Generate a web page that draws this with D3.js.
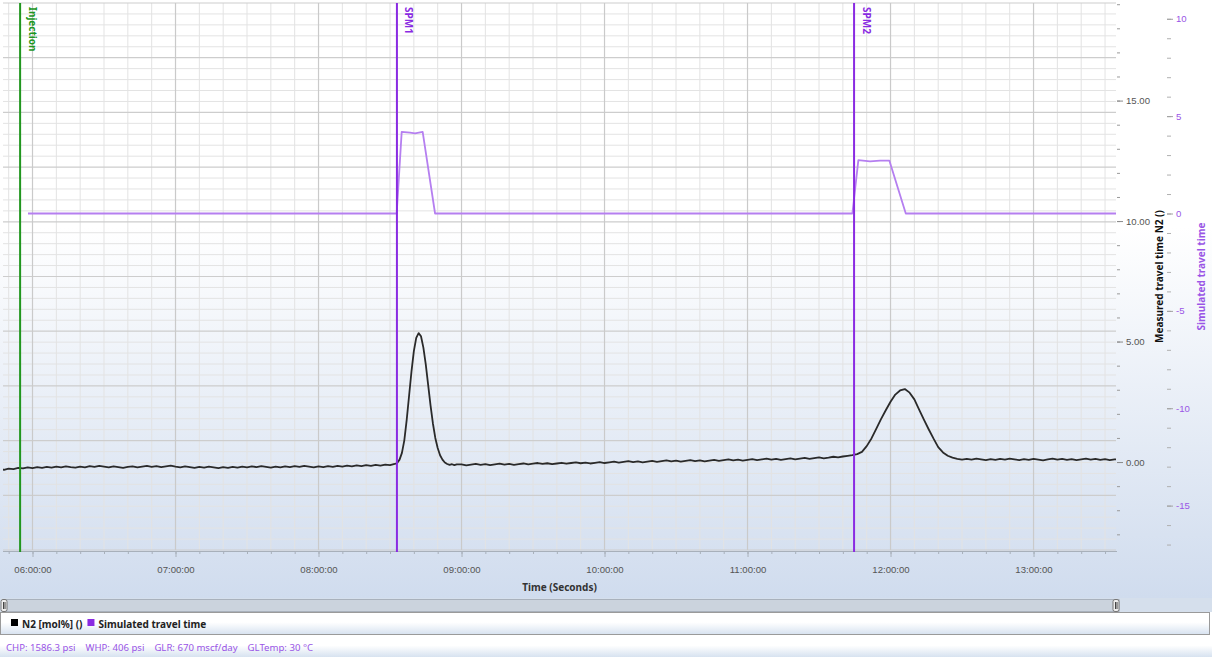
<!DOCTYPE html>
<html><head><meta charset="utf-8">
<script src="https://cdn.jsdelivr.net/npm/d3@7"></script>
<style>
html,body{margin:0;padding:0;background:#fff;overflow:hidden;}
svg{display:block;font-family:"Noto Sans","Open Sans",sans-serif;}
</style></head><body>
<svg id="chart" width="1212" height="657"></svg>
<script>
// ---------------- DATA ----------------
// time axis (minutes since midnight) and its labels
const xTickMinutes = [360, 420, 480, 540, 600, 660, 720, 780];
const xTickLabels = ["06:00:00","07:00:00","08:00:00","09:00:00","10:00:00","11:00:00","12:00:00","13:00:00"];
const leftTickValues = [0, 5, 10, 15];
const leftTickLabels = ["0.00","5.00","10.00","15.00"];
const rightTickValues = [-15, -10, -5, 0, 5, 10];
const rightTickLabels = ["-15","-10","-5","0","5","10"];

// Markers
const markerNames = ["Injection", "SPM1", "SPM2"];
const markerMinutes = [354.8, 512.9, 704.7];

// Simulated travel time [minute, value]
const simTravelTime = [
  [358.1,0],[512.8,0],[514.9,4.19],[518.4,4.15],[520.5,4.11],[523.7,4.19],[528.9,0],
  [704.0,0],[706.5,2.74],[711.4,2.68],[715.6,2.72],[719.5,2.72],[726.4,0],[815,0]
];

// Measured N2 [minute, mol%]
const n2BeforeSpm1 = [
  [347,-0.30],[348,-0.32],[350,-0.27],[352,-0.29],[354,-0.24],[356,-0.26],[358,-0.22],[360,-0.25],[362,-0.21],[364,-0.24],
  [366,-0.20],[368,-0.23],[370,-0.19],[372,-0.22],[374,-0.18],[376,-0.21],[378,-0.23],[380,-0.19],[382,-0.22],[384,-0.17],
  [386,-0.20],[388,-0.16],[390,-0.19],[392,-0.22],[394,-0.18],[396,-0.21],[398,-0.24],[400,-0.20],[402,-0.18],[404,-0.22],
  [406,-0.19],[408,-0.16],[410,-0.20],[412,-0.17],[414,-0.21],[416,-0.18],[418,-0.15],[420,-0.19],[422,-0.22],[424,-0.18],
  [426,-0.21],[428,-0.24],[430,-0.20],[432,-0.23],[434,-0.19],[436,-0.22],[438,-0.25],[440,-0.21],[442,-0.24],[444,-0.20],
  [446,-0.23],[448,-0.19],[450,-0.22],[452,-0.18],[454,-0.21],[456,-0.17],[458,-0.20],[460,-0.23],[462,-0.19],[464,-0.22],
  [466,-0.18],[468,-0.21],[470,-0.17],[472,-0.20],[474,-0.16],[476,-0.19],[478,-0.22],[480,-0.18],[482,-0.21],[484,-0.17],
  [486,-0.20],[488,-0.16],[490,-0.19],[492,-0.15],[494,-0.18],[496,-0.14],[498,-0.17],[500,-0.13],[502,-0.16],[504,-0.12],
  [506,-0.15],[508,-0.11],[510,-0.13],[512,-0.08]
];
const n2PeakSpm1 = [
  [513,-0.04],[514,0.10],[515,0.38],[516,0.90],[517,1.75],[518,2.75],[519,3.75],[520,4.60],[521,5.15],[522,5.35],
  [523,5.22],[524,4.75],[525,4.05],[526,3.20],[527,2.35],[528,1.60],[529,1.00],[530,0.58],[531,0.28],[532,0.10],
  [533,-0.02],[534,-0.08],[535,-0.12],[536,-0.09],[537,-0.13],[538,-0.10]
];
const n2BetweenPeaks = [
  [540,-0.10],[542,-0.14],[544,-0.11],[546,-0.08],[548,-0.12],[550,-0.09],[552,-0.13],[554,-0.10],[556,-0.07],[558,-0.11],
  [560,-0.08],[562,-0.12],[564,-0.09],[566,-0.06],[568,-0.10],[570,-0.07],[572,-0.04],[574,-0.08],[576,-0.05],[578,-0.09],
  [580,-0.06],[582,-0.03],[584,-0.07],[586,-0.04],[588,-0.01],[590,-0.05],[592,-0.02],[594,-0.06],[596,-0.03],[598,0.00],
  [600,-0.04],[602,-0.01],[604,0.02],[606,-0.02],[608,0.01],[610,0.04],[612,0.00],[614,0.03],[616,-0.01],[618,0.02],
  [620,0.05],[622,0.01],[624,0.04],[626,0.07],[628,0.03],[630,0.06],[632,0.02],[634,0.05],[636,0.08],[638,0.04],
  [640,0.07],[642,0.03],[644,0.06],[646,0.09],[648,0.05],[650,0.08],[652,0.11],[654,0.07],[656,0.10],[658,0.06],
  [660,0.09],[662,0.12],[664,0.08],[666,0.11],[668,0.14],[670,0.10],[672,0.13],[674,0.09],[676,0.12],[678,0.15],
  [680,0.11],[682,0.14],[684,0.17],[686,0.13],[688,0.16],[690,0.19],[692,0.15],[694,0.18],[696,0.22],[698,0.19],
  [700,0.23],[702,0.26],[704,0.29]
];
const n2PeakSpm2 = [
  [706,0.33],[708,0.42],[710,0.66],[712,0.98],[714,1.38],[716,1.78],[718,2.15],[720,2.50],[722,2.80],[724,2.97],
  [726,3.03],[728,2.88],[730,2.60],[732,2.18],[734,1.76],[736,1.36],[738,0.98],[740,0.62],[742,0.40],[744,0.26],
  [746,0.18],[748,0.13],[750,0.10]
];
const n2AfterSpm2 = [
  [752,0.13],[754,0.10],[756,0.14],[758,0.11],[760,0.08],[762,0.12],[764,0.09],[766,0.13],[768,0.10],[770,0.14],
  [772,0.11],[774,0.08],[776,0.12],[778,0.09],[780,0.13],[782,0.10],[784,0.07],[786,0.11],[788,0.14],[790,0.10],
  [792,0.13],[794,0.09],[796,0.12],[798,0.08],[800,0.11],[802,0.14],[804,0.10],[806,0.13],[808,0.09],[810,0.12],
  [812,0.08],[814,0.11],[816,0.12]
];

const legendLabels = ["N2 [mol%] ()", "Simulated travel time"];
const footerItems = ["CHP: 1586.3 psi", "WHP: 406 psi", "GLR: 670 mscf/day", "GLTemp: 30 °C"];
const xTitle = "Time (Seconds)";
const leftTitle = "Measured travel time N2 ()";
const rightTitle = "Simulated travel time";

// ---------------- LAYOUT / STYLE ----------------
const W = 1212, H = 657;
const plot = {left: 3, right: 1116, top: 3, bottom: 550};
const purple = "#8a2be2", simColor = "#b57ff0", green = "#21961f", labelPurple = "#9a55e6";
const markerColors = [green, purple, purple];

const svg = d3.select("#chart");
const defs = svg.append("defs");

const bg = defs.append("linearGradient").attr("id","bg").attr("x1",0).attr("y1",0).attr("x2",0).attr("y2",1);
bg.append("stop").attr("offset","0").attr("stop-color","#ffffff");
bg.append("stop").attr("offset","0.38").attr("stop-color","#ffffff");
bg.append("stop").attr("offset","1").attr("stop-color","#d0dcee");

const pan = defs.append("linearGradient").attr("id","pan").attr("x1",0).attr("y1",0).attr("x2",0).attr("y2",1);
pan.append("stop").attr("offset","0").attr("stop-color","#ffffff");
pan.append("stop").attr("offset","0.45").attr("stop-color","#ffffff");
pan.append("stop").attr("offset","1").attr("stop-color","#d7e2f0");

defs.append("clipPath").attr("id","clip").append("rect")
  .attr("x",plot.left).attr("y",plot.top).attr("width",plot.right-plot.left).attr("height",plot.bottom-plot.top);

svg.append("rect").attr("width",W).attr("height",598).attr("fill","url(#bg)");

// scales
const x = d3.scaleLinear().domain([347.62, 814.6]).range([plot.left, plot.right]);
const yL = d3.scaleLinear().domain([-3.65, 19.05]).range([plot.bottom, plot.top]);
const yR = d3.scaleLinear().domain([-17.28, 10.81]).range([plot.bottom, plot.top]);

// grid
const grid = svg.append("g");
const minorX = d3.range(350, 815, 10).filter(m => m % 60 !== 0);
grid.selectAll(".vmin").data(minorX).join("line")
  .attr("x1",d=>x(d)).attr("x2",d=>x(d)).attr("y1",plot.top).attr("y2",plot.bottom)
  .attr("stroke","#e3e3e3").attr("stroke-width",1);
const hN = 50;
const hLines = d3.range(0, hN+1).map(i => ({y: plot.top + i*(plot.bottom-plot.top)/hN, major: i % 5 === 0}));
grid.selectAll(".hmin").data(hLines.filter(d=>!d.major)).join("line")
  .attr("x1",plot.left).attr("x2",plot.right).attr("y1",d=>d.y).attr("y2",d=>d.y)
  .attr("stroke","#e3e3e3").attr("stroke-width",1);
grid.selectAll(".hmaj").data(hLines.filter(d=>d.major)).join("line")
  .attr("x1",plot.left).attr("x2",plot.right).attr("y1",d=>d.y).attr("y2",d=>d.y)
  .attr("stroke","#cdcdcd").attr("stroke-width",1.2);
grid.selectAll(".vmaj").data(xTickMinutes).join("line")
  .attr("x1",d=>x(d)).attr("x2",d=>x(d)).attr("y1",plot.top).attr("y2",plot.bottom)
  .attr("stroke","#cacaca").attr("stroke-width",1.2);

// x axis
const xMinorAxis = d3.axisBottom(x).tickValues(d3.range(350, 815, 10)).tickSize(3).tickFormat("");
const gxm = svg.append("g").attr("transform",`translate(0,${plot.bottom+1})`).call(xMinorAxis);
gxm.select(".domain").attr("stroke","#a8b0ba").attr("d",`M${plot.left},0.5H${plot.right+1}`);
gxm.selectAll(".tick line").attr("stroke","#a8b0ba");
const xAxis = d3.axisBottom(x).tickValues(xTickMinutes).tickFormat((d,i)=>xTickLabels[i]).tickSize(6).tickPadding(9);
const gx = svg.append("g").attr("transform",`translate(0,${plot.bottom+1})`).call(xAxis);
gx.select(".domain").remove();
gx.selectAll(".tick line").attr("stroke","#a8b0ba");
gx.selectAll(".tick text").attr("fill","#555").style("font-size","9.6px");
svg.append("text").attr("x",(plot.left+plot.right)/2).attr("y",591).attr("text-anchor","middle")
  .style("font-size","10px").style("font-weight","bold").attr("fill","#333").text(xTitle);

// left (measured) axis
const lMinor = d3.axisRight(yL).tickValues(d3.range(-3, 20, 1)).tickSize(3).tickFormat("");
const glm = svg.append("g").attr("transform",`translate(${plot.right+1},0)`).call(lMinor);
glm.select(".domain").remove();
glm.selectAll(".tick line").attr("stroke","#9a9a9a");
const lAxis = d3.axisRight(yL).tickValues(leftTickValues).tickFormat((d,i)=>leftTickLabels[i]).tickSize(6).tickPadding(3);
const gl = svg.append("g").attr("transform",`translate(${plot.right+1},0)`).call(lAxis);
gl.select(".domain").remove();
gl.selectAll(".tick line").attr("stroke","#8a8a8a");
gl.selectAll(".tick text").attr("fill","#555").style("font-size","9.6px");
svg.append("text").attr("transform",`translate(1159,${(plot.top+plot.bottom)/2}) rotate(-90)`)
  .attr("text-anchor","middle").attr("dy","0.35em")
  .style("font-size","10px").style("font-weight","bold").attr("fill","#111").text(leftTitle);

// right (simulated) axis
const rX = 1167;
const rMinor = d3.axisRight(yR).tickValues(d3.range(-17, 11, 1)).tickSize(4).tickFormat("");
const grm = svg.append("g").attr("transform",`translate(${rX},0)`).call(rMinor);
grm.select(".domain").remove();
grm.selectAll(".tick line").attr("stroke","#b0b0b0");
const rAxis = d3.axisRight(yR).tickValues(rightTickValues).tickFormat((d,i)=>rightTickLabels[i]).tickSize(6).tickPadding(3);
const gr = svg.append("g").attr("transform",`translate(${rX},0)`).call(rAxis);
gr.select(".domain").remove();
gr.selectAll(".tick line").attr("stroke","#a0a0a0");
gr.selectAll(".tick text").attr("fill",labelPurple).style("font-size","9.6px");
svg.append("text").attr("transform",`translate(1201,${(plot.top+plot.bottom)/2}) rotate(-90)`)
  .attr("text-anchor","middle").attr("dy","0.35em")
  .style("font-size","10px").style("font-weight","bold").attr("fill",labelPurple).text(rightTitle);

// series
const content = svg.append("g").attr("clip-path","url(#clip)");
const simLine = d3.line().x(d=>x(d[0])).y(d=>yR(d[1]));
content.append("path").datum(simTravelTime).attr("d",simLine)
  .attr("fill","none").attr("stroke",simColor).attr("stroke-width",1.8).attr("stroke-linejoin","round");

const n2Data = [].concat(n2BeforeSpm1, n2PeakSpm1, n2BetweenPeaks, n2PeakSpm2, n2AfterSpm2);
const n2Line = d3.line().x(d=>x(d[0])).y(d=>yL(d[1]));
content.append("path").datum(n2Data).attr("d",n2Line)
  .attr("fill","none").attr("stroke","#2a2a2a").attr("stroke-width",1.8).attr("stroke-linejoin","round");

// markers
const markers = markerNames.map((n,i)=>({name:n, m:markerMinutes[i], color:markerColors[i]}));
const mg = svg.append("g");
mg.selectAll("line").data(markers).join("line")
  .attr("x1",d=>x(d.m)).attr("x2",d=>x(d.m)).attr("y1",plot.top).attr("y2",plot.bottom+2)
  .attr("stroke",d=>d.color).attr("stroke-width",2);
mg.selectAll("text").data(markers).join("text")
  .attr("transform",d=>`translate(${x(d.m)+8.5},7) rotate(90)`)
  .style("font-size","10px").style("font-weight","bold").attr("fill",d=>d.color).text(d=>d.name);

// scrollbar
svg.append("rect").attr("x",0).attr("y",598).attr("width",W).attr("height",14).attr("fill","#d5dfec");
svg.append("rect").attr("x",plot.left).attr("y",599.5).attr("width",plot.right-plot.left+3).attr("height",12)
  .attr("fill","#cbd3dd").attr("stroke","#a9b1bc");
[plot.left-2, plot.right-3].forEach(hx=>{
  svg.append("rect").attr("x",hx).attr("y",599.5).attr("width",6).attr("height",12).attr("rx",2)
    .attr("fill","#eeeeee").attr("stroke","#777");
  svg.append("line").attr("x1",hx+2.5).attr("x2",hx+2.5).attr("y1",602).attr("y2",609).attr("stroke","#444");
  svg.append("line").attr("x1",hx+4).attr("x2",hx+4).attr("y1",602).attr("y2",609).attr("stroke","#444");
});

// legend box
svg.append("rect").attr("x",0).attr("y",612).attr("width",W).attr("height",H-612).attr("fill","#fff");
svg.append("rect").attr("x",0.5).attr("y",612.5).attr("width",1209).attr("height",22).attr("fill","url(#pan)").attr("stroke","#9a9a9a");
const legendColors = ["#000000", purple];
let lx = 11;
legendLabels.forEach((lab,i)=>{
  svg.append("rect").attr("x",lx).attr("y",619).attr("width",7).attr("height",7).attr("fill",legendColors[i]);
  const t = svg.append("text").attr("x",lx+11).attr("y",627.5).style("font-size","10px").style("font-weight","bold")
    .attr("fill","#222").text(lab);
  lx += 11 + t.node().getComputedTextLength() + 5;
});

// footer
svg.append("rect").attr("x",0).attr("y",636).attr("width",W).attr("height",H-636).attr("fill","url(#pan)");
let fx = 6;
footerItems.forEach(it=>{
  const t = svg.append("text").attr("x",fx).attr("y",651).style("font-size","9.6px").attr("fill",labelPurple).text(it);
  fx += t.node().getComputedTextLength() + 10;
});
</script>
</body></html>
